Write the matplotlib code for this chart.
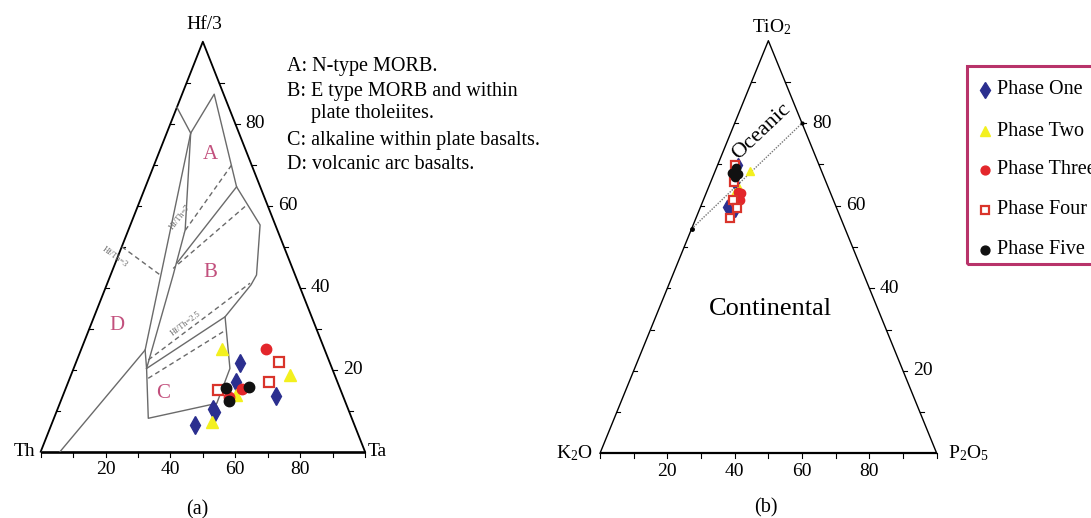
import matplotlib.pyplot as plt
from matplotlib.patches import Rectangle

plt.rcParams['font.family'] = ['Liberation Serif', 'DejaVu Serif']
plt.rcParams['mathtext.fontset'] = 'custom'
plt.rcParams['mathtext.rm'] = 'Liberation Serif'
plt.rcParams['mathtext.it'] = 'Liberation Serif:italic'

W, H = 1091, 518

# (a) Th - Hf/3 - Ta, values in %  (hf = Hf/3, ta = Ta)
one_hf = [21.6, 17.1, 13.7, 10.3, 9.8, 6.5]
one_ta = [50.7, 51.6, 65.7, 47.9, 48.7, 44.3]
two_hf = [25.1, 13.8, 18.8, 7.3]
two_ta = [43.4, 53.2, 67.5, 49.3]
three_hf = [25.1, 15.2, 13.3]
three_ta = [57.0, 54.5, 51.4]
four_hf = [21.8, 16.9, 15.0]
four_ta = [62.6, 62.0, 47.1]
five_hf = [15.6, 12.4, 15.7]
five_ta = [49.4, 51.8, 56.4]

# (b) K2O - TiO2 - P2O5, values in %
one_ti = [69.9, 65.4, 59.8, 59.0, 58.2, 62.6]
one_p = [6.1, 7.4, 7.7, 10.6, 9.8, 10.3]
two_ti = [68.3, 63.4, 64.3]
two_p = [10.4, 8.4, 9.1]
three_ti = [63.4, 61.4, 61.4, 60.7, 63.1]
three_p = [9.4, 8.4, 10.9, 9.8, 10.3]
four_ti = [69.9, 65.8, 57.0, 61.4, 59.5]
four_p = [5.2, 6.9, 10.1, 8.8, 11.0]
five_ti = [67.9, 67.7, 67.0, 69.2]
five_p = [5.2, 7.2, 6.6, 5.8]

# field boundaries of the Wood (1980) diagram, (Hf/3, Ta) pairs
outer_line = [(84, 0), (77.7, 7.4), (87.2, 9.9), (64.6, 28.1), (55.3, 40.0),
              (43.1, 45.0), (40.7, 44.5), (32.9, 40.4), (20.3, 48.2),
              (11.8, 48.4), (11.0, 44.2), (8.15, 29.1), (20.3, 22.5), (24.8, 19.8)]
line1 = [(77.7, 7.4), (24.8, 19.8), (0, 5.95)]
line2 = [(77.7, 7.4), (54.1, 17.5), (43.1, 19.3), (20.3, 22.5)]
c_top = [(20.3, 22.5), (32.9, 40.4)]
hfth7 = [(64.6, 28.1), (46.0, 19.0)]
dashed = [
    [(69.9, 23.9), (53.3, 17.3)],
    [(59.8, 33.1), (44.7, 18.5)],
    [(50.0, 0.0), (43.1, 15.3)],
    [(22.4, 22.0), (41.1, 44.0)],
    [(17.9, 24.2), (29.7, 42.3)],
]
# oceanic / continental divide, (TiO2, P2O5)
divide = [(54.4, 0.0), (80.0, 20.0)]

ticks = [20, 40, 60, 80]
phase_names = ['Phase One', 'Phase Two', 'Phase Three', 'Phase Four', 'Phase Five']

styles = [
    dict(marker='d', color='#2b2f8f', ms=9, mec='#2b2f8f'),
    dict(marker='^', color='#f3f01e', ms=8, mec='#f3f01e'),
    dict(marker='o', color='#e3262b', ms=7.5, mec='#e3262b'),
    dict(marker='s', color='white', ms=6.5, mec='#d9342b', mew=1.6),
    dict(marker='o', color='#111111', ms=7.5, mec='#111111'),
]

FS = 14


def tern(top, right):
    # top apex share and right vertex share -> x, y in a 0..100 box
    x = [r + t / 2 for t, r in zip(top, right)]
    return x, list(top)


def pairs(seq):
    return tern([p[0] for p in seq], [p[1] for p in seq])


def scaled(st, k):
    out = dict(st)
    out['ms'] = st['ms'] * k
    return out


def panel(left, bottom, right, top):
    ax = fig.add_axes([left / W, 1 - bottom / H, (right - left) / W, (bottom - top) / H])
    ax.set_xlim(0, 100)
    ax.set_ylim(0, 100)
    ax.axis('off')
    return ax


def frame(ax, lw, tick_y, tick_x):
    ax.plot([0, 100], [0, 0], color='black', lw=lw + 0.6, clip_on=False, solid_capstyle='butt')
    ax.plot([0, 50, 100], [0, 100, 0], color='black', lw=lw, clip_on=False)
    for v in range(0, 101, 10):
        ax.plot([v, v], [0, -tick_y], color='black', lw=0.8, clip_on=False)
        if 0 < v < 100:
            # right edge ticks point out, left edge ticks point in
            ax.plot([100 - v / 2, 100 - v / 2 + tick_x], [v, v], color='black', lw=0.8, clip_on=False)
            ax.plot([v / 2, v / 2 + tick_x * 0.7], [v, v], color='black', lw=0.8, clip_on=False)


fig = plt.figure(figsize=(W / 100, H / 100), dpi=100)

# ---------- (a) ----------
ax = panel(40.7, 451.7, 365.0, 41.7)
frame(ax, 1.3, 1.3, 1.4)

gray = '#6a6a6a'
for seq in (outer_line, line1, line2, c_top, hfth7):
    x, y = pairs(seq)
    ax.plot(x, y, color=gray, lw=1.0)
for seq in dashed:
    x, y = pairs(seq)
    ax.plot(x, y, color=gray, lw=1.0, ls=(0, (3.5, 2.5)))

ax.text(43.0, 57.2, 'Hf/Th=7', fontsize=6, color=gray, rotation=52, ha='center', va='center')
ax.text(23.0, 47.5, 'Hf/Th=3', fontsize=6, color=gray, rotation=-36, ha='center', va='center')
ax.text(44.8, 31.2, 'Hf/Th=2.5', fontsize=6, color=gray, rotation=37, ha='center', va='center')

pink = '#c2507d'
ax.text(52.2, 72.4, 'A', color=pink, fontsize=15, ha='center', va='center')
ax.text(52.2, 43.6, 'B', color=pink, fontsize=15, ha='center', va='center')
ax.text(37.7, 14.3, 'C', color=pink, fontsize=15, ha='center', va='center')
ax.text(23.5, 30.9, 'D', color=pink, fontsize=15, ha='center', va='center')

for hf, ta, st in zip([one_hf, two_hf, four_hf, three_hf, five_hf],
                      [one_ta, two_ta, four_ta, three_ta, five_ta],
                      [styles[0], styles[1], styles[3], styles[2], styles[4]]):
    x, y = tern(hf, ta)
    ax.plot(x, y, ls='none', clip_on=False, **st)

ax.text(50.4, 104.2, 'Hf/3', fontsize=FS, ha='center', va='center')
ax.text(-1.8, 0, 'Th', fontsize=FS, ha='right', va='center')
ax.text(100.9, 0, 'Ta', fontsize=FS, ha='left', va='center')
for t in ticks:
    ax.text(t, -4.3, str(t), fontsize=FS, ha='center', va='center')
    ax.text(100 - t / 2 + 3.2, t, str(t), fontsize=FS, ha='left', va='center')
ax.text(48.2, -14.3, '(a)', fontsize=14.5, ha='center', va='center')

notes = [(75.9, 94.0, 'A: N-type MORB.'),
         (75.9, 87.9, 'B: E type MORB and within'),
         (83.4, 82.6, 'plate tholeiites.'),
         (75.9, 75.8, 'C: alkaline within plate basalts.'),
         (75.9, 70.0, 'D: volcanic arc basalts.')]
for nx, ny, s in notes:
    ax.text(nx, ny, s, fontsize=14.5, ha='left', va='center')

# ---------- (b) ----------
bx = panel(600.0, 453.3, 936.7, 40.7)
frame(bx, 1.0, 1.2, 1.3)

x, y = pairs(divide)
bx.plot(x, y, color='#777777', lw=1.0, ls=(0, (1, 1)))
bx.plot(x[0], y[0], 'o', color='black', ms=2.5)
bx.plot(x[1], y[1], 'o', color='black', ms=2.0)

for ti, p, st in zip([one_ti, two_ti, three_ti, four_ti, five_ti],
                     [one_p, two_p, three_p, four_p, five_p], styles):
    x, y = tern(ti, p)
    bx.plot(x, y, ls='none', **scaled(st, 0.8))

bx.text(48.1, 77.9, 'Oceanic', fontsize=16, rotation=43.4, ha='center', va='center')
bx.text(50.5, 35.0, 'Continental', fontsize=19, ha='center', va='center')

bx.text(51.1, 103.4, 'TiO$_2$', fontsize=FS, ha='center', va='center')
bx.text(-2.2, 0, 'K$_2$O', fontsize=FS, ha='right', va='center')
bx.text(103.3, 0, 'P$_2$O$_5$', fontsize=FS, ha='left', va='center')
for t in ticks:
    bx.text(t, -4.3, str(t), fontsize=FS, ha='center', va='center')
    bx.text(100 - t / 2 + 3.0, t, str(t), fontsize=FS, ha='left', va='center')
bx.text(49.3, -13.2, '(b)', fontsize=14.5, ha='center', va='center')

# legend box running off the right edge
bx.add_patch(Rectangle((109.0, 46.0), 60, 47.9, fill=False, ec='#b8336a', lw=2.2, clip_on=False))
rows = [88.1, 78.0, 68.7, 59.0, 49.3]
for name, ry, st in zip(phase_names, rows, styles):
    bx.plot([114.3], [ry], ls='none', clip_on=False, **scaled(st, 0.85))
    bx.text(117.9, ry, name, fontsize=14.5, ha='left', va='center')

fig.savefig('out.png', dpi=100)
